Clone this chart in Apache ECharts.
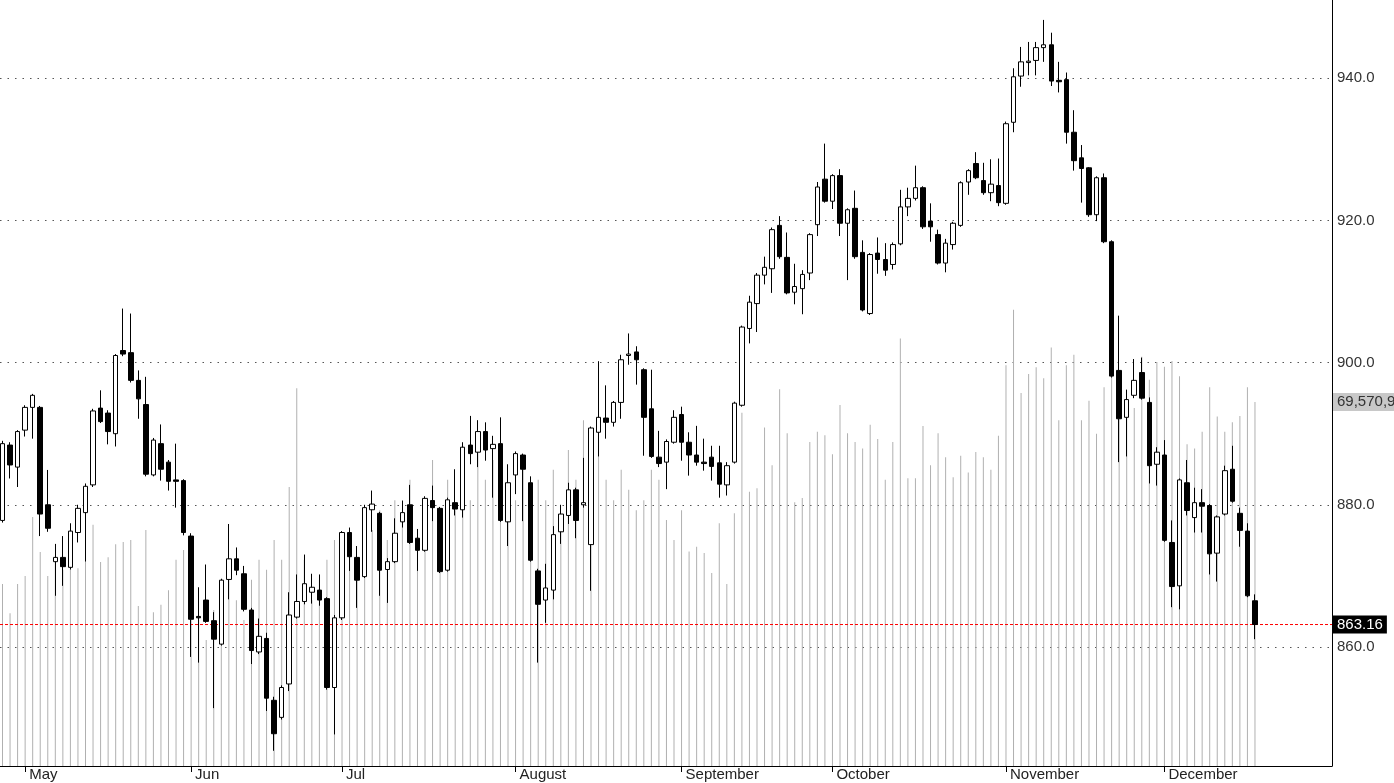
<!DOCTYPE html>
<html>
<head>
<meta charset="utf-8">
<script src="https://cdn.jsdelivr.net/npm/echarts@6/dist/echarts.min.js"></script>
<style>html,body{margin:0;padding:0;background:#fff;}#c{width:1394px;height:783px;}</style>
</head>
<body>
<div id="c"></div>
<script>
// ---- data ----
const monthStart = [3, 25, 45, 68, 90, 110, 133, 154];
const monthNames = ['May', 'Jun', 'Jul', 'August', 'September', 'October', 'November', 'December'];
const priceTicks = [860, 880, 900, 920, 940];

const open = [
877.8,888.4,885.3,890.5,893.7,893.7,880.0,872.0,872.6,871.2,
876.1,878.9,882.8,893.6,892.9,890.0,901.7,901.4,897.5,894.1,
884.2,888.6,886.0,883.5,883.4,875.6,864.3,866.6,863.7,860.4,
869.5,872.4,870.3,865.2,859.3,861.2,852.5,850.1,854.8,864.2,
866.4,867.7,868.0,866.8,854.3,864.1,876.1,872.6,869.9,879.3,
878.8,870.9,872.0,877.6,880.0,875.3,873.6,880.6,879.5,870.8,
880.3,879.3,888.4,887.4,890.3,887.9,888.6,877.6,884.2,887.0,
883.1,870.7,866.6,868.0,876.2,878.5,882.1,880.0,874.4,890.2,
892.2,891.6,894.4,901.0,901.5,899.0,893.5,886.7,886.0,888.8,
892.7,888.8,887.0,886.0,886.7,885.9,882.8,886.0,894.0,904.8,
908.3,912.3,913.2,919.3,914.8,909.9,910.4,912.6,919.4,925.8,
922.7,926.3,919.6,921.7,915.5,906.9,915.4,914.5,913.8,916.7,
921.9,923.1,924.6,919.9,918.0,914.0,916.6,919.3,925.4,928.0,
925.6,923.9,924.9,922.4,933.8,940.3,942.2,942.5,944.3,944.7,
939.7,939.8,932.4,928.8,927.4,920.8,926.0,917.0,898.9,892.3,
895.4,898.6,894.4,885.7,887.0,874.7,868.6,883.1,878.2,880.3,
879.9,873.2,878.7,885.0,878.8,876.3,866.5];
const close = [
888.6,885.6,890.3,893.7,895.4,878.7,876.7,872.6,871.3,876.3,
879.5,882.6,893.2,891.7,890.3,901.0,901.2,897.5,894.9,884.3,
889.1,885.0,883.3,883.3,876.1,863.9,864.1,863.6,861.1,869.4,
872.4,870.8,865.3,859.5,861.5,852.8,847.8,854.3,864.5,866.4,
868.9,868.4,866.6,854.3,864.1,876.1,872.7,869.4,879.6,880.1,
870.8,872.0,876.0,878.9,874.7,873.6,880.9,879.6,870.6,880.7,
879.4,888.1,887.2,890.3,887.7,888.5,877.8,883.1,887.2,885.0,
872.2,866.0,868.3,875.8,878.7,882.1,877.8,880.3,890.8,892.3,
891.6,894.4,900.4,901.2,900.4,892.3,886.8,885.8,888.9,892.3,
888.8,887.0,886.0,885.8,885.4,882.9,885.5,894.3,905.0,908.5,
912.3,913.4,918.7,914.9,909.8,910.7,912.4,918.0,924.7,922.7,
926.3,919.6,921.5,914.9,907.4,915.2,914.5,913.0,916.6,921.9,
923.1,924.6,919.1,919.1,914.0,916.8,919.6,925.3,927.0,926.0,
923.9,925.1,922.5,933.6,940.2,942.3,942.4,944.3,944.7,939.6,
939.5,932.4,928.4,927.3,920.8,926.0,917.0,898.1,892.1,894.8,
897.5,895.0,885.5,887.4,875.0,868.5,883.5,879.2,880.3,879.8,
873.1,878.3,884.8,880.5,876.4,867.2,863.16];
const high = [
889.0,888.8,890.5,894.0,895.6,893.9,884.9,874.5,875.6,877.4,
880.0,883.0,893.5,896.1,893.3,901.2,907.6,906.9,898.9,898.0,
889.4,891.3,886.3,888.6,883.6,876.0,868.4,871.6,864.9,869.6,
877.3,874.0,871.4,865.5,864.0,862.0,853.0,854.6,867.7,870.2,
873.0,870.3,870.2,867.0,864.5,876.3,876.8,874.2,880.0,882.0,
879.0,872.5,878.1,880.6,882.8,876.6,881.2,882.7,879.7,881.0,
885.0,888.8,892.5,891.9,891.6,889.7,892.3,885.7,887.5,887.2,
884.0,871.0,871.7,877.0,880.0,883.1,882.4,886.6,891.0,900.2,
896.8,894.6,901.1,904.1,902.3,899.2,899.0,890.4,889.2,893.3,
893.8,890.2,891.1,889.3,888.3,888.3,886.0,894.5,905.2,909.4,
912.6,914.9,919.0,920.6,918.3,913.9,913.0,918.2,925.4,930.8,
926.5,927.2,921.7,924.2,917.2,915.4,917.6,916.8,916.9,924.3,
924.6,927.7,924.8,922.4,918.7,917.4,919.8,925.5,927.2,929.6,
928.1,928.6,928.7,933.9,941.4,944.4,945.1,945.1,948.2,946.4,
942.3,940.8,935.5,930.6,927.5,926.2,926.6,917.2,906.6,896.2,
900.5,900.7,895.1,888.1,889.1,877.8,883.7,886.3,882.4,882.2,
880.1,878.5,885.5,888.3,879.6,877.4,867.4];
const low = [
877.5,883.7,882.5,889.6,889.3,875.6,876.2,867.2,868.6,870.9,
874.7,872.0,882.5,891.5,888.5,888.2,900.9,897.2,892.1,884.0,
884.0,883.4,882.0,879.6,875.7,858.6,857.8,863.4,851.4,860.2,
866.7,870.1,865.0,857.6,859.0,851.0,845.4,849.8,853.8,864.0,
866.0,866.1,865.8,854.0,847.7,863.8,870.7,865.5,869.7,876.2,
867.2,866.2,871.8,876.8,874.5,870.7,873.4,877.7,870.4,870.6,
878.5,878.2,885.7,885.3,886.2,881.0,877.6,874.2,881.5,877.7,
872.0,857.8,863.4,866.7,874.5,877.3,875.3,879.6,867.9,886.8,
889.3,891.0,892.1,899.7,896.9,886.9,886.6,885.3,882.2,888.6,
886.2,884.1,885.5,884.8,883.4,881.0,881.3,885.8,893.8,902.7,
904.3,911.0,909.8,914.6,909.6,908.2,906.8,911.6,917.8,922.5,
921.6,917.8,911.6,914.6,907.2,906.7,912.5,912.2,913.1,916.5,
920.6,922.8,918.8,917.0,913.8,912.7,915.9,919.1,923.6,925.8,
923.6,922.7,922.0,922.2,932.4,938.8,940.4,940.4,942.3,938.9,
938.0,930.8,927.0,922.5,920.5,919.9,916.8,897.9,886.0,886.8,
895.0,894.8,883.0,882.7,874.8,865.6,865.3,878.5,876.1,876.1,
870.2,869.2,878.5,880.3,874.1,867.0,861.1];
// volume, millions
const volume = [
34.8,29.2,34.8,36.3,47.6,40.9,36.3,39.4,37.5,45.1,
37.8,39.0,46.1,39.0,39.9,42.4,42.8,43.2,30.6,45.1,
29.4,30.8,33.6,39.4,41.3,31.7,27.9,24.1,29.8,33.6,
39.4,31.7,27.9,35.6,39.4,37.5,43.2,39.4,53.3,72.2,
39.4,31.7,35.6,39.4,43.2,41.3,43.2,39.4,47.0,45.1,
48.9,43.2,50.8,47.0,54.7,45.1,50.8,58.5,47.0,54.7,
48.9,56.6,50.8,60.4,54.7,58.5,56.6,50.8,50.8,58.5,
47.0,54.7,50.8,56.6,47.0,60.4,54.7,66.1,58.5,62.3,
54.7,50.8,56.6,52.8,48.9,50.8,56.6,54.7,47.0,43.2,
48.9,41.0,41.9,40.7,36.9,46.4,34.8,48.3,67.5,52.4,
53.1,64.7,57.5,72.0,63.6,50.4,51.2,61.9,63.9,63.2,
59.6,69.0,63.6,61.9,60.7,65.2,62.5,54.7,61.9,81.7,
55.0,55.0,65.0,57.5,63.6,59.0,55.2,59.3,56.1,60.0,
59.0,56.6,63.1,76.6,87.2,71.3,74.9,76.2,74.1,80.0,
66.1,76.6,78.6,66.1,69.8,63.5,72.4,79.5,75.7,70.0,
68.4,78.2,73.8,77.2,76.3,77.4,74.5,61.5,60.7,63.9,
72.4,66.8,63.9,65.7,66.9,72.4,69.570912];

// ---- chart ----
const n = open.length;
const candleData = [], volData = [];
for (let i = 0; i < n; i++) {
  candleData.push([i, open[i], close[i], low[i], high[i]]);
  volData.push([i, volume[i]]);
}
const lastClose = close[n - 1];
const lastVol = volume[n - 1];
const X_MIN = -0.331, X_MAX = 176.21;
const FONT = 'Liberation Sans, Arial, sans-serif';

const gridLines = priceTicks.map(v => ({
  yAxis: v,
  lineStyle: {type: [1.5, 6], color: '#555', width: 1},
  label: {position: 'end', distance: 5, color: '#333', fontFamily: FONT, fontSize: 15,
          formatter: Number(v).toFixed(1)}
}));

const chart = echarts.init(document.getElementById('c'), null, {renderer: 'canvas'});
chart.setOption({
  animation: false,
  backgroundColor: '#ffffff',
  grid: {left: 0, right: 62, top: 0, bottom: 17, containLabel: false},
  xAxis: {
    type: 'value', min: X_MIN, max: X_MAX,
    axisLine: {show: true, onZero: false, lineStyle: {color: '#000', width: 1}},
    splitLine: {show: false},
    axisTick: {show: true, customValues: monthStart, length: 6, lineStyle: {color: '#000'}},
    axisLabel: {
      customValues: monthStart,
      formatter: v => monthNames[monthStart.indexOf(Math.round(v))] || '',
      align: 'left', margin: 1, padding: [0, 0, 0, 4],
      fontFamily: FONT, fontSize: 15, color: '#222'
    }
  },
  yAxis: [
    {type: 'value', position: 'right', min: 843.26, max: 951, scale: true,
     axisLine: {show: true, onZero: false, lineStyle: {color: '#000'}}, axisTick: {show: false},
     axisLabel: {show: false}, splitLine: {show: false}},
    {type: 'value', min: 0, max: 146.4, show: false, splitLine: {show: false},
     axisLine: {show: false, onZero: false}}
  ],
  series: [
    {
      type: 'bar', name: 'volume', xAxisIndex: 0, yAxisIndex: 1, data: volData,
      barWidth: 1, z: 2, silent: true, clip: false,
      itemStyle: {color: '#b0b0b0'},
      markLine: {
        silent: true, symbol: 'none', z: 2,
        lineStyle: {color: 'rgba(0,0,0,0)', width: 0},
        label: {show: true, position: 'end', distance: 1, backgroundColor: '#c8c8c8', color: '#333',
                padding: [2, 4, 1, 4], fontFamily: FONT, fontSize: 15,
                formatter: () => Math.round(lastVol * 1e6).toLocaleString('en-US')},
        data: [{yAxis: lastVol}]
      }
    },
    {
      type: 'line', name: 'lastPrice', xAxisIndex: 0, yAxisIndex: 0,
      data: [[X_MIN, lastClose], [X_MAX, lastClose]],
      showSymbol: false, symbol: 'none', silent: true, z: 2.5,
      color: '#ff0000',
      lineStyle: {color: '#ff0000', width: 1, type: [3, 2]},
      markLine: {
        silent: true, symbol: 'none',
        lineStyle: {color: 'rgba(0,0,0,0)', width: 0},
        label: {show: true, position: 'end', distance: 1, backgroundColor: '#000', color: '#fff',
                padding: [2, 4, 1, 4], fontFamily: FONT, fontSize: 15,
                formatter: () => lastClose.toFixed(2)},
        data: [{yAxis: lastClose}]
      }
    },
    {
      type: 'candlestick', name: 'price', xAxisIndex: 0, yAxisIndex: 0, data: candleData,
      encode: {x: 0, y: [1, 2, 3, 4]},
      barWidth: 5, z: 3, silent: true, clip: false,
      itemStyle: {color: '#ffffff', color0: '#000000', borderColor: '#000000', borderColor0: '#000000', borderWidth: 1},
      markLine: {
        silent: true, symbol: 'none', z: 1,
        data: gridLines
      }
    }
  ]
});
</script>
</body>
</html>
